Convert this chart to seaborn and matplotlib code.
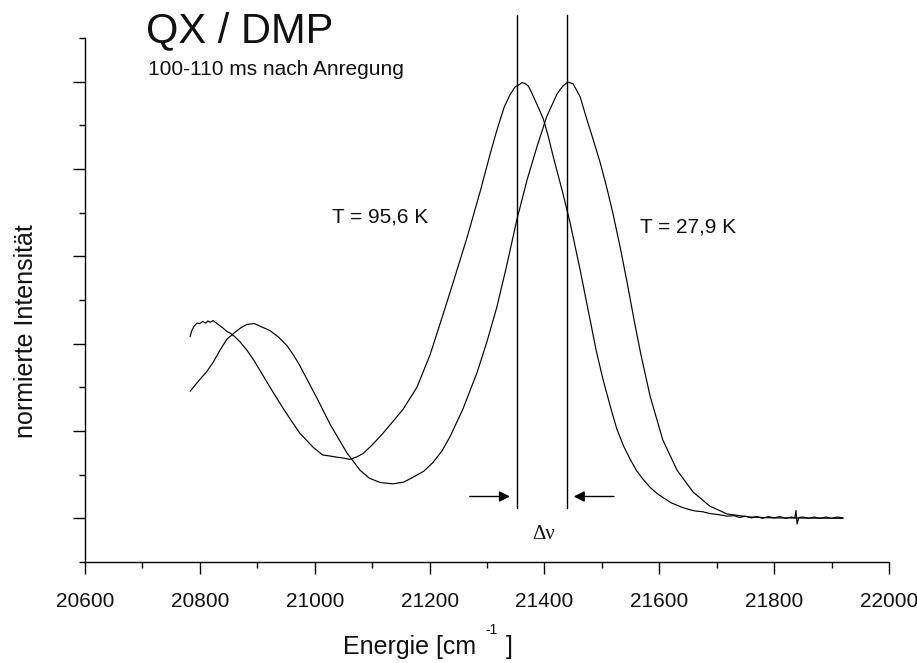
import matplotlib
matplotlib.use("Agg")
import matplotlib.pyplot as plt
import numpy as np
import pandas as pd
import seaborn as sns
from matplotlib.ticker import MultipleLocator, NullFormatter

# ---------------- data ----------------
# T = 95,6 K spectrum
energie_956 = [20783, 20786, 20790, 20795, 20800, 20805, 20810, 20814, 20818, 20823,
               20830, 20835, 20840, 20847, 20853, 20861, 20870, 20882, 20895, 20905,
               20920, 20934, 20946, 20957, 20974, 20985, 20997, 21014, 21025, 21039,
               21050, 21061, 21072, 21084, 21100, 21119, 21135, 21154, 21178, 21201,
               21223, 21241, 21265, 21288, 21305, 21317, 21330, 21340, 21349, 21356,
               21361, 21366, 21372, 21378, 21387, 21398, 21406, 21415, 21432, 21445,
               21462, 21479, 21490, 21502, 21515, 21526, 21538, 21549, 21560, 21572,
               21584, 21596, 21606, 21612, 21620, 21631, 21640, 21650, 21662, 21676,
               21688, 21700, 21710, 21718, 21730, 21740, 21750, 21760, 21770, 21780,
               21790, 21800, 21810, 21820, 21830, 21836, 21838, 21840, 21843, 21850,
               21860, 21870, 21880, 21890, 21900, 21910, 21920]
intens_956 = [0.416, 0.430, 0.440, 0.447, 0.446, 0.451, 0.447, 0.452, 0.449, 0.453,
              0.446, 0.441, 0.436, 0.428, 0.424, 0.416, 0.404, 0.385, 0.360, 0.338,
              0.305, 0.275, 0.250, 0.228, 0.195, 0.180, 0.163, 0.145, 0.143, 0.140,
              0.138, 0.135, 0.140, 0.148, 0.168, 0.195, 0.220, 0.250, 0.300, 0.375,
              0.465, 0.540, 0.642, 0.748, 0.832, 0.888, 0.942, 0.970, 0.988, 0.993,
              0.998, 0.996, 0.990, 0.974, 0.948, 0.915, 0.878, 0.830, 0.745, 0.675,
              0.570, 0.458, 0.385, 0.318, 0.255, 0.205, 0.165, 0.136, 0.110, 0.089,
              0.071, 0.057, 0.048, 0.043, 0.036, 0.030, 0.025, 0.021, 0.017, 0.015,
              0.011, 0.009, 0.007, 0.005, 0.006, 0.002, 0.005, 0.001, 0.004, 0.000,
              0.004, 0.001, 0.004, 0.000, 0.003, 0.001, 0.018, -0.013, 0.002, 0.003,
              0.000, 0.003, 0.000, 0.003, 0.000, 0.003, 0.001]

# T = 27,9 K spectrum
energie_279 = [20783, 20790, 20800, 20812, 20823, 20835, 20847, 20861, 20872, 20882,
               20895, 20905, 20922, 20937, 20952, 20964, 20974, 20990, 21004, 21027,
               21056, 21079, 21095, 21114, 21136, 21155, 21171, 21190, 21206, 21222,
               21236, 21258, 21283, 21300, 21317, 21334, 21352, 21370, 21387, 21404,
               21422, 21432, 21441, 21450, 21462, 21474, 21485, 21497, 21509, 21519,
               21532, 21544, 21556, 21568, 21584, 21606, 21631, 21659, 21688, 21718,
               21758, 21800, 21920]
intens_279 = [0.291, 0.302, 0.318, 0.336, 0.357, 0.385, 0.410, 0.426, 0.437, 0.444,
              0.446, 0.440, 0.430, 0.415, 0.395, 0.372, 0.350, 0.310, 0.275, 0.215,
              0.150, 0.110, 0.092, 0.082, 0.079, 0.083, 0.094, 0.108, 0.128, 0.155,
              0.188, 0.250, 0.335, 0.405, 0.483, 0.577, 0.684, 0.776, 0.851, 0.920,
              0.972, 0.990, 0.999, 0.995, 0.966, 0.913, 0.867, 0.815, 0.755, 0.700,
              0.620, 0.540, 0.455, 0.375, 0.280, 0.180, 0.110, 0.060, 0.028, 0.010,
              0.003, 0.001, 0.000]

peak_positions = [21352, 21439]   # marked maxima (Δν)
x_ticks = [20600, 20800, 21000, 21200, 21400, 21600, 21800, 22000]

# ---------------- figure ----------------
sns.set_theme(style="ticks")
plt.rcParams["font.family"] = ["Liberation Sans", "DejaVu Sans"]
plt.rcParams["axes.linewidth"] = 1.0

TXT = "#111111"
W, H = 917, 663
fig = plt.figure(figsize=(W / 100, H / 100), dpi=100)
fig.patch.set_facecolor("white")
ax = fig.add_axes([85 / W, 101 / H, 804 / W, 524 / H])
ax.set_facecolor("white")

df1 = pd.DataFrame({"Energie": energie_956, "I": intens_956})
df2 = pd.DataFrame({"Energie": energie_279, "I": intens_279})
sns.lineplot(data=df1, x="Energie", y="I", color="black", lw=0.85,
             estimator=None, sort=False, ax=ax)
sns.lineplot(data=df2, x="Energie", y="I", color="black", lw=0.85,
             estimator=None, sort=False, ax=ax)

ax.set_xlim(20600, 22000)
ax.set_ylim(-0.1, 1.1)
ax.set_xticks(x_ticks)
ax.xaxis.set_minor_locator(MultipleLocator(100))
ax.yaxis.set_major_locator(MultipleLocator(0.2))
ax.yaxis.set_minor_locator(MultipleLocator(0.1))
ax.yaxis.set_major_formatter(NullFormatter())
ax.set_xlabel("")
ax.set_ylabel("")
sns.despine(ax=ax)
for s in ["left", "bottom"]:
    ax.spines[s].set_color("black")
    ax.spines[s].set_linewidth(1.0)
ax.tick_params(axis="both", which="major", direction="out", length=8.5, width=1.0,
               color="black", labelsize=15, labelcolor=TXT, pad=13)
ax.tick_params(axis="both", which="minor", direction="out", length=4, width=1.0,
               color="black")

# marker lines at the maxima
for p in peak_positions:
    ax.plot([p, p], [0.024, 1.153], color="black", lw=1.0, clip_on=False)

# arrows
arrow_kw = dict(arrowstyle="-|>", color="black", lw=1.0, mutation_scale=16,
                shrinkA=0, shrinkB=0)
ax.annotate("", xy=(peak_positions[0] - 12, 0.05), xytext=(peak_positions[0] - 82, 0.05),
            arrowprops=arrow_kw)
ax.annotate("", xy=(peak_positions[1] + 12, 0.05), xytext=(peak_positions[1] + 82, 0.05),
            arrowprops=arrow_kw)

ax.text(21399, -0.037, "Δν", ha="center", va="center", fontsize=15,
        family=["Liberation Serif", "DejaVu Serif"], color=TXT)

ax.text(21030, 0.691, "T = 95,6 K", ha="left", va="center", fontsize=15, color=TXT)
ax.text(21566, 0.668, "T = 27,9 K", ha="left", va="center", fontsize=15, color=TXT)

# title texts
fig.text(146 / W, 1 - 42 / H, "QX / DMP", ha="left", va="baseline", fontsize=30,
         color=TXT)
fig.text(148 / W, 1 - 75 / H, "100-110 ms nach Anregung", ha="left", va="baseline",
         fontsize=15, color=TXT)

# axis labels
fig.text(26 / W, 1 - 331 / H, "normierte Intensität", rotation=90, ha="center",
         va="center", fontsize=18, color=TXT)
fig.text(343 / W, 1 - 654 / H, "Energie [cm", ha="left", va="baseline", fontsize=18,
         color=TXT)
fig.text(485 / W, 1 - 634 / H, "-1", ha="left", va="baseline", fontsize=10,
         color=TXT)
fig.text(506 / W, 1 - 654 / H, "]", ha="left", va="baseline", fontsize=18,
         color=TXT)

fig.savefig("out.png", dpi=100, facecolor="white")
